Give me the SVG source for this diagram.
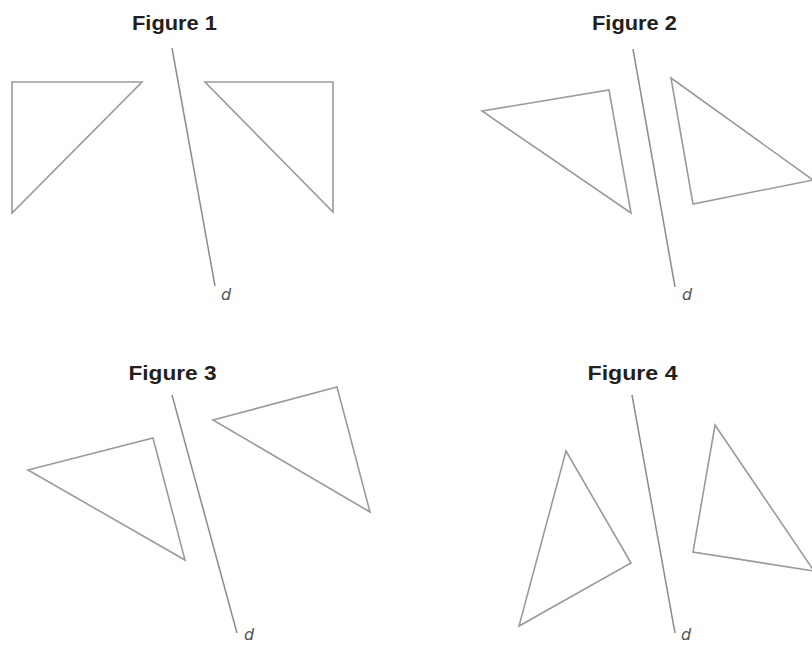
<svg xmlns="http://www.w3.org/2000/svg" width="812" height="646" viewBox="0 0 812 646">
<style>
.tri{fill:none;stroke:#9a9a9a;stroke-width:1.6;stroke-linejoin:miter}
.axis{stroke:#8c8c8c;stroke-width:1.5;fill:none}
.title{font-family:"Liberation Sans",Arial,sans-serif;font-weight:bold;font-size:20px;fill:#231f20;text-anchor:middle}
.lbl{font-family:"DejaVu Sans","Liberation Sans",sans-serif;font-style:italic;font-size:16px;fill:#555}
</style>
<rect width="812" height="646" fill="#fff"/>
<g id="figure1">
<text class="title" x="174.5" y="30" textLength="85" lengthAdjust="spacingAndGlyphs">Figure 1</text>
<polygon class="tri" points="12,82 142,82 12,213"/>
<polygon class="tri" points="205,82 333,82 333,212"/>
</g>
<g id="figure2">
<text class="title" x="634.5" y="30" textLength="85" lengthAdjust="spacingAndGlyphs">Figure 2</text>
<polygon class="tri" points="482,111 609,90 631,213"/>
<polygon class="tri" points="671,78 813,180 693,204"/>
</g>
<g id="figure3">
<text class="title" x="172.5" y="380" textLength="88" lengthAdjust="spacingAndGlyphs">Figure 3</text>
<polygon class="tri" points="28,470 153,438 185,560"/>
<polygon class="tri" points="213,420 337,387 370,512"/>
</g>
<g id="figure4">
<text class="title" x="632.5" y="380" textLength="90" lengthAdjust="spacingAndGlyphs">Figure 4</text>
<polygon class="tri" points="566,451 631,563 519,626"/>
<polygon class="tri" points="715,425 814,571 693,552"/>
</g>
<g id="connectors">
<line class="axis" x1="172" y1="48" x2="215" y2="286"/>
<line class="axis" x1="633" y1="49" x2="675" y2="287"/>
<line class="axis" x1="172" y1="395" x2="237" y2="633"/>
<line class="axis" x1="632" y1="395" x2="675" y2="633"/>
</g>
<g id="labels">
<text class="lbl" x="221" y="300">d</text>
<text class="lbl" x="682" y="300">d</text>
<text class="lbl" x="244" y="640">d</text>
<text class="lbl" x="681" y="640">d</text>
</g>
</svg>
